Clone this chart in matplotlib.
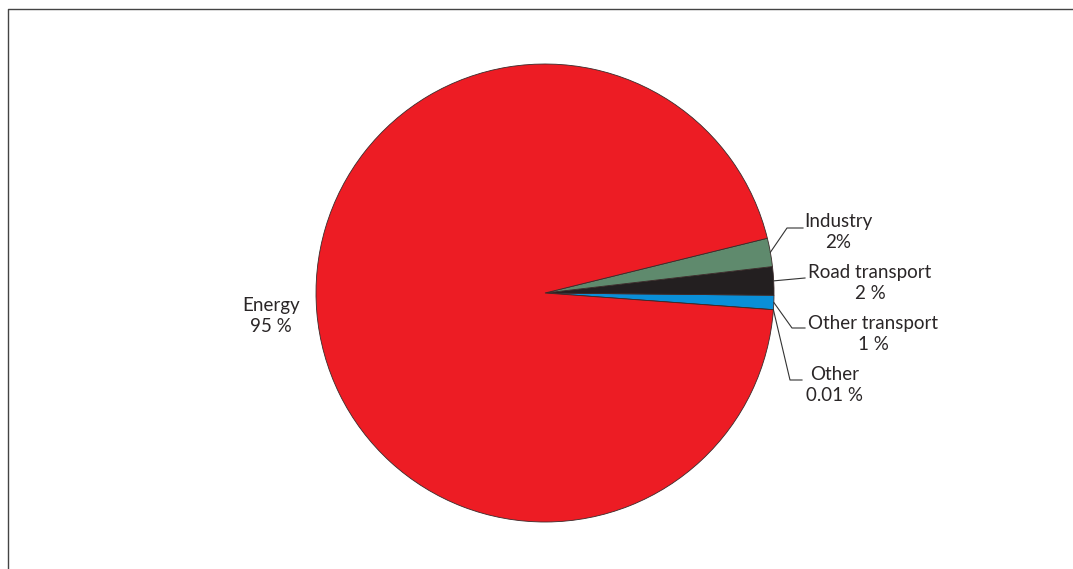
import numpy as np
import matplotlib
matplotlib.use("Agg")
import matplotlib.pyplot as plt
from matplotlib.lines import Line2D

# Emission shares by sector (counter-clockwise from the "Other" sliver)
sectors = ["Other", "Other transport", "Road transport", "Industry", "Energy"]
shares = [0.01, 1, 2, 2, 95]
share_text = ["0.01 %", "1 %", "2 %", "2%", "95 %"]
colors = ["#9a9a9a", "#0a8fd8", "#231f20", "#5f8a6d", "#ed1c24"]

W, H = 1073, 569
fig = plt.figure(figsize=(W / 100, H / 100), dpi=100)
ax = fig.add_axes([0, 0, 1, 1])

cx, cy, r = 545, H - 293, 229
wedges, _ = ax.pie(shares, colors=colors, startangle=-4.2, counterclock=True,
                   center=(cx, cy), radius=r,
                   wedgeprops=dict(edgecolor="#3a2a2a", linewidth=0.6))
ax.set_xlim(0, W)
ax.set_ylim(0, H)
ax.set_aspect("equal")
ax.axis("off")

font = dict(family=["Lato", "DejaVu Sans"], fontsize=13.5, color="#2a2627",
            ha="center", va="center", linespacing=1.25)

# label centre (px) and leader elbow / end points (px) for each sector
label_pos = {"Industry": (838, 232), "Road transport": (870, 283),
             "Other transport": (873, 334), "Other": (835, 385),
             "Energy": (271, 316)}
elbows = {"Industry": [(787, 228), (803, 228)],
          "Road transport": [(805, 278)],
          "Other transport": [(792, 328), (805, 328)],
          "Other": [(790, 380), (802, 380)]}

for w, name, txt in zip(wedges, sectors, share_text):
    lx, ly = label_pos[name]
    ax.text(lx, H - ly, name + "\n" + txt, **font)
    if name in elbows:
        ang = np.deg2rad((w.theta1 + w.theta2) / 2)
        pts = [(cx + r * np.cos(ang), cy + r * np.sin(ang))]
        pts += [(x, H - y) for x, y in elbows[name]]
        xs, ys = zip(*pts)
        ax.plot(xs, ys, color="#333333", lw=0.8)

# partial frame (top and left border)
fig.add_artist(Line2D([8 / W, 8 / W, 1], [0, 1 - 9 / H, 1 - 9 / H],
                      transform=fig.transFigure, color="#444444", lw=1))

fig.savefig("out.png", dpi=100)
